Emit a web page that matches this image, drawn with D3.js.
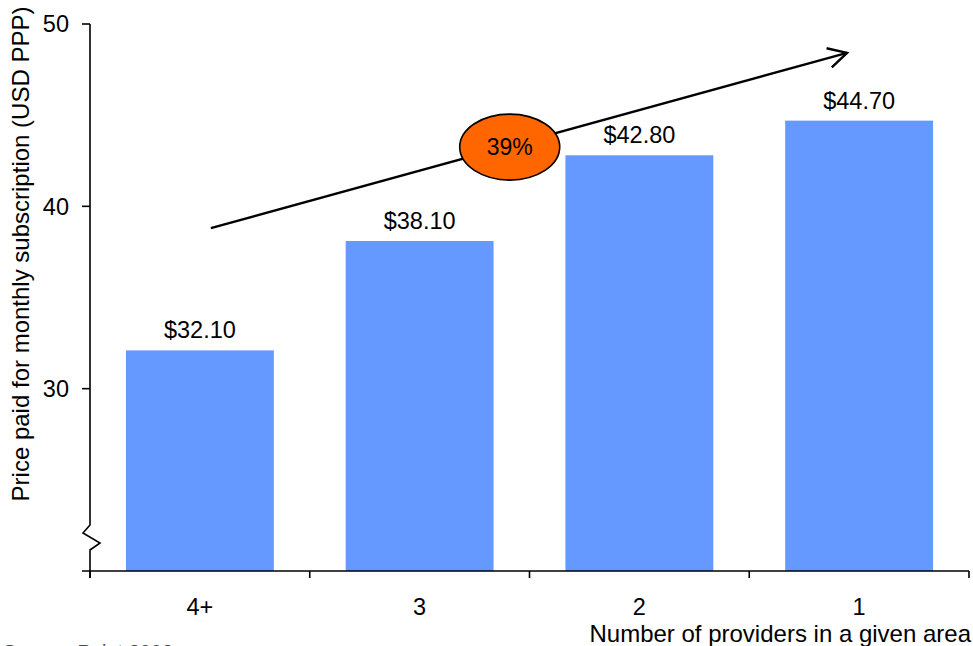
<!DOCTYPE html>
<html>
<head>
<meta charset="utf-8">
<script src="https://cdn.jsdelivr.net/npm/d3@7"></script>
<style>
  body { margin: 0; background: #fff; }
  svg { display: block; font-family: "Liberation Sans", Arial, sans-serif; }
</style>
</head>
<body>
<svg id="chart" width="973" height="646"></svg>
<script>
// ---- data ----
const categories = ["4+", "3", "2", "1"];
const prices = [32.10, 38.10, 42.80, 44.70];
const priceLabels = ["$32.10", "$38.10", "$42.80", "$44.70"];
const yTicks = [30, 40, 50];
const yDomain = [20, 50];
const growthLabel = "39%";
// annotation anchors in data space: [category index position, value]
const arrowStart = [0.05, 38.8];
const arrowEnd = [2.945, 48.42];
const bubbleCenter = [1.41, 43.25];

(function () {
const svg = d3.select("#chart");
const pLeft = 90, pRight = 969, pTop = 24, pBottom = 571;
const FS = 23.5;

const x = d3.scaleBand().domain(categories).range([pLeft, pRight]).paddingInner(0.327).paddingOuter(0.1635);
const xBand = d3.scaleBand().domain(categories).range([pLeft, pRight]);
const xi = d3.scaleLinear().domain([-0.5, categories.length - 0.5]).range([pLeft, pRight]);
const y = d3.scaleLinear().domain(yDomain).range([pBottom, pTop]);

// bars
svg.selectAll("rect.bar").data(prices).enter().append("rect")
  .attr("class", "bar")
  .attr("x", (d, i) => x(categories[i]))
  .attr("width", x.bandwidth())
  .attr("y", d => y(d))
  .attr("height", d => y(yDomain[0]) - y(d))
  .attr("fill", "#6699FF");

// value labels
svg.selectAll("text.val").data(prices).enter().append("text")
  .attr("class", "val")
  .attr("x", (d, i) => x(categories[i]) + x.bandwidth() / 2)
  .attr("y", d => y(d) - 12)
  .attr("text-anchor", "middle")
  .attr("font-size", FS)
  .attr("fill", "#000")
  .text((d, i) => priceLabels[i]);

// y axis with break
const yAxisG = svg.append("g");
const breakTop = 525, breakBot = 550;
yAxisG.append("path")
  .attr("d", `M${pLeft},${pTop} L${pLeft},${breakTop} L${pLeft - 7},${breakTop + 8} L${pLeft + 10},${breakTop + 18} L${pLeft},${breakBot} L${pLeft},${pBottom + 7}`)
  .attr("fill", "none").attr("stroke", "#000").attr("stroke-width", 1.6);
yTicks.forEach(t => {
  yAxisG.append("line").attr("x1", pLeft - 8).attr("x2", pLeft).attr("y1", y(t)).attr("y2", y(t))
    .attr("stroke", "#000").attr("stroke-width", 1.6);
  yAxisG.append("text").attr("x", pLeft - 21).attr("y", y(t)).attr("dy", "0.35em")
    .attr("text-anchor", "end").attr("font-size", FS).text(t);
});

// x axis
const xAxisG = svg.append("g");
xAxisG.append("line").attr("x1", pLeft - 8).attr("x2", pRight).attr("y1", pBottom).attr("y2", pBottom)
  .attr("stroke", "#000").attr("stroke-width", 1.6);
const edges = categories.map(c => xBand(c)).concat([pRight]);
edges.forEach(e => {
  xAxisG.append("line").attr("x1", e).attr("x2", e).attr("y1", pBottom).attr("y2", pBottom + 7)
    .attr("stroke", "#000").attr("stroke-width", 1.6);
});
categories.forEach(c => {
  xAxisG.append("text").attr("x", xBand(c) + xBand.bandwidth() / 2).attr("y", 615)
    .attr("text-anchor", "middle").attr("font-size", FS).text(c);
});

// axis titles
svg.append("text").attr("x", 971).attr("y", 642).attr("text-anchor", "end")
  .attr("font-size", 24).text("Number of providers in a given area");
svg.append("text").attr("transform", `translate(29,${254}) rotate(-90)`)
  .attr("text-anchor", "middle").attr("font-size", 24)
  .text("Price paid for monthly subscription (USD PPP)");

// source (cut off at bottom, as in the original)
svg.append("text").attr("x", 3).attr("y", 659).attr("font-size", 20).attr("fill", "#444")
  .text("Source: Point 2008");

// arrow
const ax1 = xi(arrowStart[0]), ay1 = y(arrowStart[1]);
const ax2 = xi(arrowEnd[0]), ay2 = y(arrowEnd[1]);
svg.append("line").attr("x1", ax1).attr("y1", ay1).attr("x2", ax2).attr("y2", ay2)
  .attr("stroke", "#000").attr("stroke-width", 2.4);
const ang = Math.atan2(ay2 - ay1, ax2 - ax1);
const hl = 21, ha = 0.49;
svg.append("path")
  .attr("d", `M${ax2 - hl * Math.cos(ang - ha)},${ay2 - hl * Math.sin(ang - ha)} L${ax2},${ay2} L${ax2 - hl * Math.cos(ang + ha)},${ay2 - hl * Math.sin(ang + ha)}`)
  .attr("fill", "none").attr("stroke", "#000").attr("stroke-width", 2.4);

// bubble
const bx = xi(bubbleCenter[0]), by = y(bubbleCenter[1]);
svg.append("ellipse").attr("cx", bx).attr("cy", by).attr("rx", 50).attr("ry", 33)
  .attr("fill", "#FF6600").attr("stroke", "#000").attr("stroke-width", 1.6);
svg.append("text").attr("x", bx).attr("y", by).attr("dy", "0.35em").attr("text-anchor", "middle")
  .attr("font-size", 23).text(growthLabel);
})();
</script>
</body>
</html>
